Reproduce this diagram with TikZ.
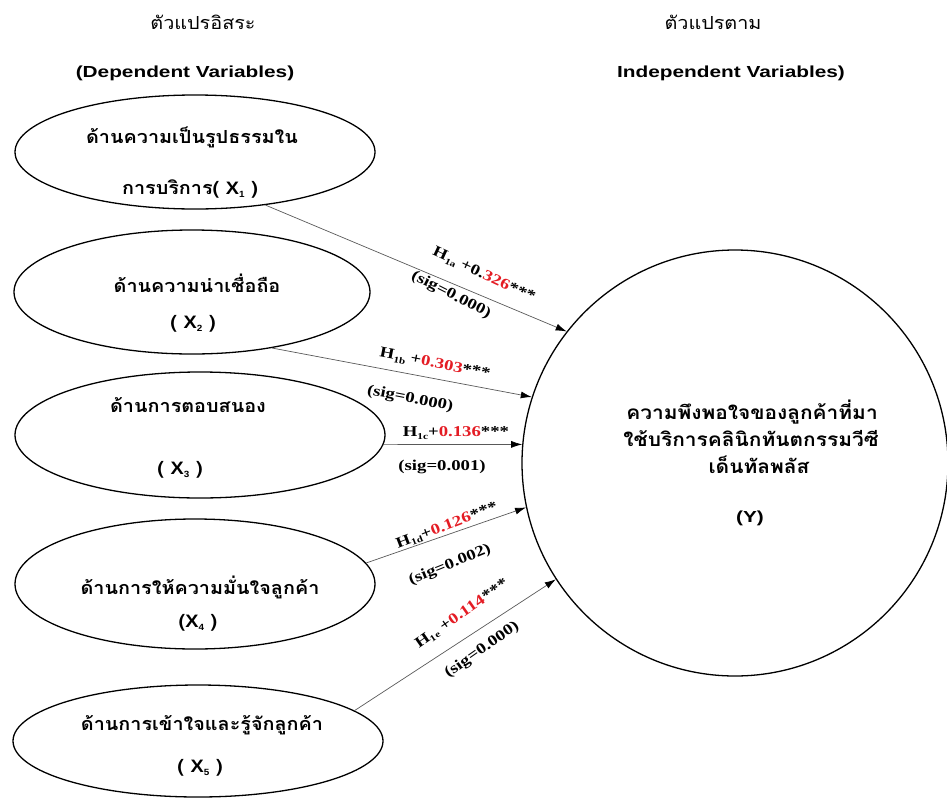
\documentclass[tikz,border=0pt]{standalone}
\usepackage{fontspec}
\usepackage{graphicx}
\usetikzlibrary{shapes.geometric,arrows.meta}
\setmainfont{Liberation Serif}
\newfontfamily\thai[Script=Thai]{Loma}
\newfontfamily\arial{Liberation Sans}
\newcommand{\hs}[1]{\scalebox{1.25}[1]{#1}}
\newcommand{\thst}[1]{\scalebox{1.1}[1]{#1}}
\newcommand{\engst}[1]{\scalebox{1.3}[1]{#1}}
\newcommand{\hsub}[1]{\raisebox{-0.35ex}{\fontsize{9}{9}\selectfont #1}}
\newcommand{\xsub}[1]{{\arial\bfseries X\hsub{#1}}}
\definecolor{numred}{RGB}{228,28,36}
\newcommand{\rn}[1]{\textcolor{numred}{#1}}
\begin{document}
\begin{tikzpicture}[x=1pt,y=-1pt,
  varell/.style={ellipse,draw=black,line width=1.3pt,inner sep=0pt},
  thb/.style={font=\thai\bfseries\fontsize{18}{21}\selectfont,inner sep=0pt},
  thy/.style={font=\thai\bfseries\fontsize{19}{22}\selectfont,inner sep=0pt},
  thr/.style={font=\thai\fontsize{18}{21}\selectfont,inner sep=0pt},
  engh/.style={font=\arial\bfseries\fontsize{16}{19}\selectfont,inner sep=0pt},
  lab/.style={font=\bfseries\fontsize{15}{18}\selectfont,inner sep=0pt},
  conn/.style={draw=black!65,line width=0.7pt,-{Latex[length=11pt,width=7pt,color=black]}}
]
\useasboundingbox (0,0) rectangle (947,798);
% headers
\node[thr] (h1) at (203,22) {\thst{ตัวแปรอิสระ}};
\node[engh] (h2) at (185,73) {\engst{(Dependent Variables)}};
\node[thr] (h3) at (713,22) {\thst{ตัวแปรตาม}};
\node[engh] (h4) at (731,73) {\engst{Independent Variables)}};
% ellipses
\node[varell,minimum width=360,minimum height=114] (e1) at (195,152) {};
\node[varell,minimum width=356,minimum height=124] (e2) at (192,292) {};
\node[varell,minimum width=370,minimum height=126] (e3) at (200,435) {};
\node[varell,minimum width=360,minimum height=130] (e4) at (195,584) {};
\node[varell,minimum width=370,minimum height=112] (e5) at (198,741) {};
% ellipse texts
\node[thb] (t1a) at (192,137) {\thst{ด้านความเป็นรูปธรรมใน}};
\node[thb] (t1b) at (190,189) {\thst{การบริการ( \xsub{1} )}};
\node[thb] (t2a) at (197,283) {\thst{ด้านความน่าเชื่อถือ}};
\node[thb] (t2b) at (193,324) {\thst{( \xsub{2} )}};
\node[thb] (t3a) at (188,405) {\thst{ด้านการตอบสนอง}};
\node[thb] (t3b) at (180,470) {\thst{( \xsub{3} )}};
\node[thb] (t4a) at (200,587) {\thst{ด้านการให้ความมั่นใจลูกค้า}};
\node[thb] (t4b) at (198,623) {\thst{(\xsub{4} )}};
\node[thb] (t5a) at (202,725) {\thst{ด้านการเข้าใจและรู้จักลูกค้า}};
\node[thb] (t5b) at (200,768) {\thst{( \xsub{5} )}};
% dependent circle
\node[circle,draw=black,line width=1.3pt,minimum size=426,inner sep=0pt] (y) at (735,463) {};
\node[thy] (ya) at (752,412) {\thst{ความพึงพอใจของลูกค้าที่มา}};
\node[thy] (yb) at (751,438) {\thst{ใช้บริการคลินิกทันตกรรมวีซี}};
\node[thy] (yc) at (759,465) {\thst{เด็นทัลพลัส}};
\node[engh] (yd) at (750,518) {\engst{(Y)}};
% connectors
\draw[conn] (e1.-37) -- (y.142.7);
\draw[conn] (e2.-35) -- (y.162.9);
\draw[conn] (e3.-3) -- (y.175.2);
\draw[conn] (e4.7) -- (y.192.5);
\draw[conn] (e5.11) -- (y.213.5);
% labels
\node[lab,rotate=-25] (l1a) at (484,275) {\hs{H\hsub{1a} +0.\rn{326}***}};
\node[lab,rotate=-27] (l1b) at (451,295) {\hs{(sig=0.000)}};
\node[lab,rotate=-11] (l2a) at (435,364) {\hs{H\hsub{1b} +\rn{0.303}***}};
\node[lab,rotate=-11] (l2b) at (410,399) {\hs{(sig=0.000)}};
\node[lab] (l3a) at (456,433) {\hs{H\hsub{1c}+\rn{0.136}***}};
\node[lab] (l3b) at (442,467) {\hs{(sig=0.001)}};
\node[lab,rotate=21] (l4a) at (447,526) {\hs{H\hsub{1d}+\rn{0.126}***}};
\node[lab,rotate=22] (l4b) at (450,565) {\hs{(sig=0.002)}};
\node[lab,rotate=35] (l5a) at (462,614) {\hs{H\hsub{1e} +\rn{0.114}***}};
\node[lab,rotate=35] (l5b) at (482,650) {\hs{(sig=0.000)}};
\end{tikzpicture}
\end{document}
